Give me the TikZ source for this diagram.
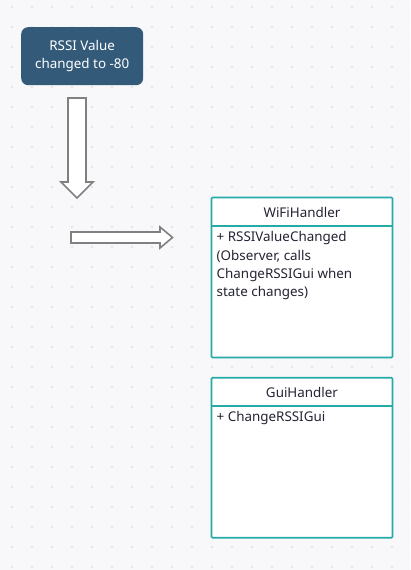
\documentclass[tikz,border=0pt]{standalone}
\usepackage{fontspec}
\setmainfont{Noto Sans}
\begin{document}
\begin{tikzpicture}[x=1pt,y=-1pt,
  txt/.style={font=\fontsize{13.4}{18.2}\selectfont, inner sep=0pt},
  classbox/.style={draw=teal1, line width=1.6pt, fill=white, rounded corners=1pt},
  blockarrow/.style={draw=arrowgray, line width=1.6pt, fill=white, line join=miter},
]
\definecolor{bg}{RGB}{248,248,250}
\definecolor{dotc}{RGB}{222,222,228}
\definecolor{navy}{RGB}{52,90,122}
\definecolor{teal1}{RGB}{38,170,168}
\definecolor{arrowgray}{RGB}{128,128,128}
\definecolor{ink}{RGB}{36,36,52}
\fill[bg] (0,0) rectangle (410,570);
\useasboundingbox (0,0) rectangle (410,570);
% dot grid
\foreach \i in {0,...,20} {
  \foreach \j in {0,...,28} {
    \fill[dotc] (12+20*\i,7+20*\j) circle (1.1);
  }
}
% start node
\node[fill=navy, rounded corners=7pt, minimum width=122pt, minimum height=58pt,
  text=white, align=center, txt, anchor=north west] (start) at (21,27)
  {RSSI Value\\changed to -80};
% down block arrow
\draw[blockarrow] (68,98) -- (86,98) -- (86,182) -- (93,182) -- (77,198) -- (61,182) -- (68,182) -- cycle;
% right block arrow
\draw[blockarrow] (71,232) -- (160,232) -- (160,227) -- (172.5,237.5) -- (160,248) -- (160,243) -- (71,243) -- cycle;
% WiFiHandler class
\draw[classbox] (211.5,197.5) rectangle (392.5,357.5);
\draw[teal1, line width=1.6pt] (211.5,225.7) -- (392.5,225.7);
\node[txt, text=ink] (wifititle) at (302,212) {WiFiHandler};
\node[txt, text=ink, anchor=north west, align=left] (wifibody) at (216.5,231.5)
  {+ RSSIValueChanged\\(Observer, calls\\ChangeRSSIGui when\\state changes)};
% GuiHandler class
\draw[classbox] (211.5,377.7) rectangle (392.5,537.7);
\draw[teal1, line width=1.6pt] (211.5,405.7) -- (392.5,405.7);
\node[txt, text=ink] (guititle) at (302,392) {GuiHandler};
\node[txt, text=ink, anchor=north west, align=left] (guibody) at (216.5,411.5)
  {+ ChangeRSSIGui};
\end{tikzpicture}
\end{document}
